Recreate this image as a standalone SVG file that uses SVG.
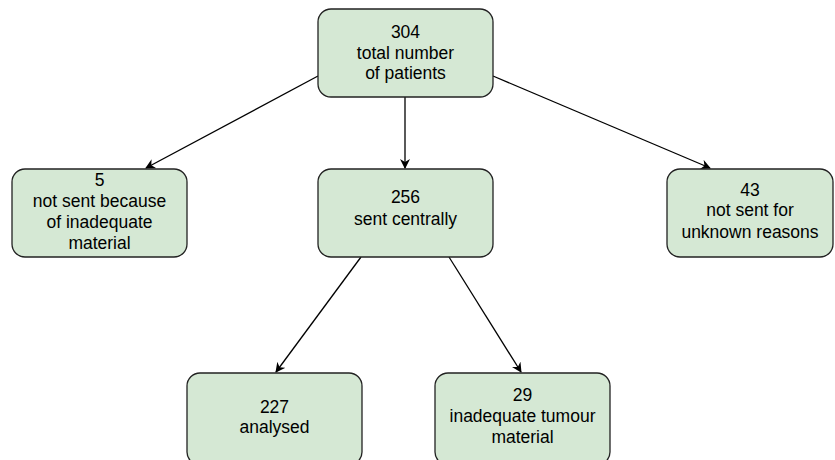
<svg xmlns="http://www.w3.org/2000/svg" width="835" height="460" viewBox="0 0 835 460">
<defs>
<style>
.box{fill:#d5e8d4;stroke:#222;stroke-width:1.3}
.t{font-family:"Liberation Sans",Arial,sans-serif;font-size:17.5px;fill:#000;text-anchor:middle}
.c{stroke:#000;stroke-width:1.3;fill:none;marker-end:url(#ah)}
</style>
<marker id="ah" viewBox="0 0 10 10" refX="9" refY="5" markerWidth="10" markerHeight="10" markerUnits="userSpaceOnUse" orient="auto">
<path d="M0,0 L10,5 L0,10 L3,5 Z" fill="#000"/>
</marker>
</defs>
<rect width="835" height="460" fill="#fff"/>
<g id="connectors">
<line class="c" x1="318" y1="76" x2="146" y2="168"/>
<line class="c" x1="405" y1="97" x2="405" y2="168"/>
<line class="c" x1="493" y1="76" x2="710" y2="168"/>
<line class="c" x1="361" y1="257" x2="276" y2="372"/>
<line class="c" x1="449" y1="257" x2="521" y2="372"/>
</g>
<g id="n304">
<rect class="box" x="318" y="9" width="175" height="88" rx="13"/>
<text class="t" x="405.5" y="38">304</text>
<text class="t" x="405.5" y="59">total number</text>
<text class="t" x="405.5" y="79">of patients</text>
</g>
<g id="n5">
<rect class="box" x="12" y="169" width="175" height="88" rx="13"/>
<text class="t" x="99.5" y="186">5</text>
<text class="t" x="99.5" y="207">not sent because</text>
<text class="t" x="99.5" y="228">of inadequate</text>
<text class="t" x="99.5" y="249">material</text>
</g>
<g id="n256">
<rect class="box" x="318" y="169" width="175" height="88" rx="13"/>
<text class="t" x="405.5" y="203">256</text>
<text class="t" x="405.5" y="225">sent centrally</text>
</g>
<g id="n43">
<rect class="box" x="667" y="169" width="166" height="88" rx="13"/>
<text class="t" x="750" y="196">43</text>
<text class="t" x="750" y="216">not sent for</text>
<text class="t" x="750" y="238">unknown reasons</text>
</g>
<g id="n227">
<rect class="box" x="187" y="373" width="175" height="92" rx="13"/>
<text class="t" x="274.5" y="413">227</text>
<text class="t" x="274.5" y="433">analysed</text>
</g>
<g id="n29">
<rect class="box" x="435" y="373" width="175" height="92" rx="13"/>
<text class="t" x="522.5" y="401">29</text>
<text class="t" x="522.5" y="422">inadequate tumour</text>
<text class="t" x="522.5" y="443">material</text>
</g>
</svg>
